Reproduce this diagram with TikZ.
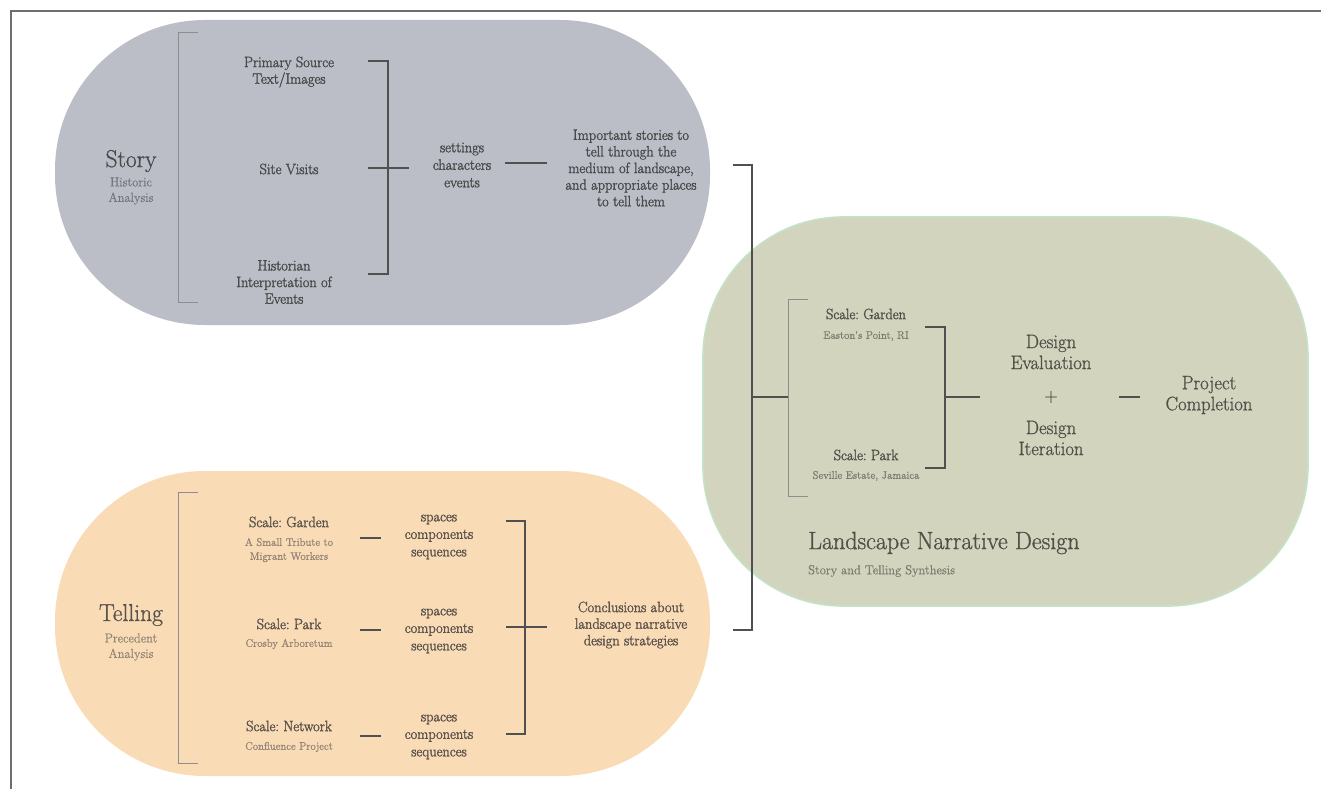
\documentclass[tikz,border=0pt]{standalone}
\usepackage{fontspec}
\newfontfamily\semifont[FakeBold=1.8, FakeStretch=0.96]{Latin Modern Roman}
\newfontfamily\headfont[FakeBold=0.9, FakeStretch=0.96]{Latin Modern Roman}
\newfontfamily\plainfont[FakeBold=0.5, FakeStretch=0.96]{Latin Modern Roman}
\frenchspacing
\definecolor{storyfill}{HTML}{BBBEC6}
\definecolor{tellfill}{HTML}{F9DBB5}
\definecolor{synthfill}{HTML}{D2D4BE}
\definecolor{synthedge}{HTML}{C4E2C6}
\definecolor{framecol}{HTML}{6E6E6E}
\definecolor{ink}{HTML}{4A4A4C}
\definecolor{greyink}{HTML}{74767C}
\definecolor{tellink}{HTML}{5A524C}
\definecolor{tellsub}{HTML}{928474}
\definecolor{synthink}{HTML}{505049}
\definecolor{synthsub}{HTML}{7C7D70}
\definecolor{barcol}{HTML}{505050}
\definecolor{lightbar}{HTML}{8E8E8E}
\begin{document}
\begin{tikzpicture}[x=1pt,y=-1pt,
  every node/.style={inner sep=0pt, align=center, text=ink},
  mid/.style={font=\semifont\fontsize{15}{16.6}\selectfont},
  spread/.style={font=\semifont\fontsize{15}{17.5}\selectfont},
  big/.style={font=\headfont\fontsize{19.5}{21}\selectfont},
  sub/.style={font=\plainfont\fontsize{11}{14}\selectfont},
  caption/.style={font=\plainfont\fontsize{13}{15.5}\selectfont},
  head/.style={font=\headfont\fontsize{24.5}{26}\selectfont},
  bar/.style={draw=barcol, line width=1.05pt},
  lightbracket/.style={draw=lightbar, line width=0.8pt},
]
\useasboundingbox (0,0) rectangle (1321,789);

% page frame
\draw[framecol, line width=1.3pt] (11,789) -- (11,11) -- (1321,11);

% three panels
\fill[storyfill, rounded corners=150pt] (55,20) rectangle (710,325);
\fill[tellfill, rounded corners=150pt] (55,471) rectangle (710,776);
\filldraw[fill=synthfill, draw=synthedge, line width=1.6pt, rounded corners=140pt]
  (703,217) rectangle (1308,606);

% ---------- Story ----------
\node[head] (story) at (131,161) {Story};
\node[caption, text=greyink] (storysub) at (131,191) {Historic\\Analysis};
\node[mid] (primary) at (289,72) {Primary Source\\Text/Images};
\node[mid] (site) at (289,169) {Site Visits};
\node[mid] (historian) at (284,282) {Historian\\Interpretation of\\Events};
\node[spread] (sce) at (462,165) {settings\\characters\\events};
\node[mid] (important) at (631,168) {Important stories to\\tell through the\\medium of landscape,\\and appropriate places\\to tell them};

\coordinate (sL1) at (198,32);  \coordinate (sL2) at (178,32);
\coordinate (sL3) at (178,302); \coordinate (sL4) at (198,302);
\draw[lightbracket] (sL1) -- (sL2) -- (sL3) -- (sL4);

\coordinate (sR1) at (368,61);  \coordinate (sR2) at (388,61);
\coordinate (sR3) at (388,274); \coordinate (sR4) at (368,274);
\coordinate (sRa) at (368,168); \coordinate (sRb) at (409,168);
\draw[bar] (sR1) -- (sR2) -- (sR3) -- (sR4);
\draw[bar] (sRa) -- (sRb);

\coordinate (sceA) at (505,163); \coordinate (sceB) at (547,163);
\draw[bar] (sceA) -- (sceB);

% ---------- Telling ----------
\node[head, text=tellink] (telling) at (131,615) {Telling};
\node[caption, text=tellsub] (tellsubn) at (131,647) {Precedent\\Analysis};

\node[mid, text=tellink] (tg) at (289,522) {Scale: Garden};
\node[sub, text=tellsub] (tgs) at (289,550) {A Small Tribute to\\Migrant Workers};
\node[mid, text=tellink] (tp) at (289,624) {Scale: Park};
\node[sub, text=tellsub] (tps) at (289,644) {Crosby Arboretum};
\node[mid, text=tellink] (tn) at (289,726) {Scale: Network};
\node[sub, text=tellsub] (tns) at (289,747) {Confluence Project};

\node[spread, text=tellink] (sp1) at (439,537) {spaces\\components\\sequences};
\node[spread, text=tellink] (sp2) at (439,631) {spaces\\components\\sequences};
\node[spread, text=tellink] (sp3) at (439,737) {spaces\\components\\sequences};
\node[mid, text=tellink] (concl) at (631,625) {Conclusions about\\landscape narrative\\design strategies};

\coordinate (tL1) at (198,492); \coordinate (tL2) at (178,492);
\coordinate (tL3) at (178,763); \coordinate (tL4) at (198,763);
\draw[lightbracket] (tL1) -- (tL2) -- (tL3) -- (tL4);

\coordinate (d1a) at (360,538); \coordinate (d1b) at (381,538);
\coordinate (d2a) at (360,630); \coordinate (d2b) at (381,630);
\coordinate (d3a) at (360,736); \coordinate (d3b) at (381,736);
\draw[bar] (d1a) -- (d1b);
\draw[bar] (d2a) -- (d2b);
\draw[bar] (d3a) -- (d3b);

\coordinate (tR1) at (506,521); \coordinate (tR2) at (525,521);
\coordinate (tR3) at (525,734); \coordinate (tR4) at (506,734);
\coordinate (tRa) at (506,627); \coordinate (tRb) at (547,627);
\draw[bar] (tR1) -- (tR2) -- (tR3) -- (tR4);
\draw[bar] (tRa) -- (tRb);

% ---------- joining bracket ----------
\coordinate (j1) at (733,165); \coordinate (j2) at (752,165);
\coordinate (j3) at (752,630); \coordinate (j4) at (733,630);
\coordinate (ja) at (752,397); \coordinate (jb) at (788,397);
\draw[bar] (j1) -- (j2) -- (j3) -- (j4);
\draw[bar] (ja) -- (jb);

% ---------- Landscape Narrative Design ----------
\node[mid, text=synthink] (lg) at (866,314) {Scale: Garden};
\node[sub, text=synthsub] (lgs) at (866,336) {Easton's Point, RI};
\node[mid, text=synthink] (lp) at (866,455) {Scale: Park};
\node[sub, text=synthsub] (lps) at (866,476) {Seville Estate, Jamaica};

\node[big, text=synthink] (eval) at (1051,352) {Design\\Evaluation};
\node[font=\plainfont\fontsize{19}{21}\selectfont, text=synthink] (plus) at (1051,397) {+};
\node[big, text=synthink] (iter) at (1051,438) {Design\\Iteration};
\node[big, text=synthink] (done) at (1209,395) {Project\\Completion};

\node[anchor=west, text=synthink, font=\headfont\fontsize{25}{27}\selectfont] (lnd) at (808,543) {Landscape Narrative Design};
\node[anchor=west, text=synthsub, font=\plainfont\fontsize{13}{15}\selectfont] (lnds) at (808,571) {Story and Telling Synthesis};

\coordinate (gL1) at (808,299); \coordinate (gL2) at (788,299);
\coordinate (gL3) at (788,496); \coordinate (gL4) at (808,496);
\draw[lightbracket] (gL1) -- (gL2) -- (gL3) -- (gL4);

\coordinate (gR1) at (925,327); \coordinate (gR2) at (945,327);
\coordinate (gR3) at (945,468); \coordinate (gR4) at (925,468);
\coordinate (gRa) at (945,397); \coordinate (gRb) at (980,397);
\draw[bar] (gR1) -- (gR2) -- (gR3) -- (gR4);
\draw[bar] (gRa) -- (gRb);

\coordinate (pa) at (1119,397); \coordinate (pb) at (1140,397);
\draw[bar] (pa) -- (pb);
\end{tikzpicture}
\end{document}
